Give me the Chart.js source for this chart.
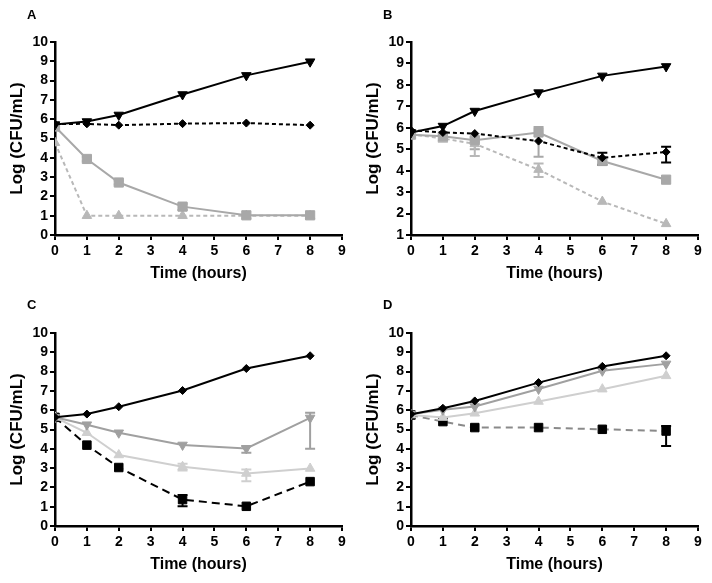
<!DOCTYPE html>
<html>
<head>
<meta charset="utf-8">
<script src="https://cdn.jsdelivr.net/npm/chart.js@4.4.1/dist/chart.umd.min.js"></script>
<style>
  body { margin: 0; background: #fff; }
  #wrap { position: relative; width: 712px; height: 583px; background: #fff; overflow: hidden; }
  canvas { position: absolute; }
  .tag { position: absolute; font: bold 13px "Liberation Sans", Arial, sans-serif; line-height: 13px; color: #000; }
</style>
</head>
<body>
<div id="wrap">
  <canvas id="chartA" width="356" height="290" style="left:0;top:0"></canvas>
  <canvas id="chartB" width="356" height="290" style="left:356px;top:0"></canvas>
  <canvas id="chartC" width="356" height="290" style="left:0;top:291px"></canvas>
  <canvas id="chartD" width="356" height="290" style="left:356px;top:291px"></canvas>
  <div class="tag" style="left:27px;top:8px">A</div>
  <div class="tag" style="left:383px;top:8px">B</div>
  <div class="tag" style="left:27px;top:298px">C</div>
  <div class="tag" style="left:383px;top:298px">D</div>
</div>
<script>
const hours = [0, 1, 2, 4, 6, 8];

// panel A
const aGrowth = [5.72, 5.88, 6.22, 7.28, 8.27, 8.98];
const aDiamond = [5.75, 5.76, 5.69, 5.77, 5.8, 5.69];
const aSquare = [5.62, 3.94, 2.72, 1.47, 1.02, 1.02];
const aSquareErr = [null, [3.82, 4.06], [2.62, 2.82], [1.3, 1.62], null, null];
const aTriangle = [4.78, 1.0, 1.0, 1.0, 1.0, 1.0];

// panel B
const bGrowth = [5.78, 6.08, 6.78, 7.64, 8.42, 8.86];
const bDiamond = [5.88, 5.78, 5.73, 5.38, 4.6, 4.87];
const bDiamondErr = [null, null, null, null, [4.28, 4.83], [4.38, 5.11]];
const bSquare = [5.68, 5.6, 5.42, 5.78, 4.45, 3.58];
const bSquareErr = [null, [5.4, 5.72], [5.0, 5.55], [4.65, 6.04], null, null];
const bTriangle = [5.7, 5.5, 5.25, 4.05, 2.56, 1.52];
const bTriangleErr = [null, [5.35, 5.62], [4.68, 5.35], [3.7, 4.33], null, null];

// panel C
const cGrowth = [5.63, 5.8, 6.18, 7.02, 8.16, 8.82];
const cDownTri = [5.63, 5.25, 4.83, 4.2, 4.02, 5.6];
const cDownTriErr = [null, null, null, null, [3.79, 4.14], [4.0, 5.87]];
const cUpTri = [5.63, 4.83, 3.68, 3.07, 2.72, 2.98];
const cUpTriErr = [null, null, null, [2.88, 3.22], [2.32, 2.93], null];
const cSquare = [5.63, 4.19, 3.03, 1.37, 1.02, 2.3];
const cSquareErr = [null, null, null, [1.02, 1.6], null, null];

// panel D
const dGrowth = [5.79, 6.1, 6.48, 7.43, 8.27, 8.82];
const dDownTri = [5.79, 6.02, 6.19, 7.1, 8.04, 8.4];
const dUpTri = [5.75, 5.62, 5.84, 6.45, 7.09, 7.78];
const dSquare = [5.75, 5.41, 5.1, 5.1, 5.01, 4.92];
const dSquareErr = [null, null, null, null, null, [4.14, 5.18]];

const FONT = '"Liberation Sans", Arial, sans-serif';

function points(values) {
  return values.map((v, i) => ({ x: hours[i], y: v }));
}

function series(values, opts) {
  return Object.assign({
    data: points(values),
    borderWidth: 2,
    pointBorderWidth: 1,
    pointRadius: 5,
    tension: 0
  }, opts);
}

// vertical error bars with caps, drawn through the scales
const errorBars = {
  id: 'errorBars',
  beforeDatasetsDraw(chart) {
    const ctx = chart.ctx;
    const xs = chart.scales.x, ys = chart.scales.y;
    chart.data.datasets.forEach(ds => {
      if (!ds.errors) return;
      ctx.save();
      ctx.strokeStyle = ds.errColor || ds.borderColor;
      ctx.lineWidth = 2;
      ds.errors.forEach((e, i) => {
        if (!e) return;
        const x = xs.getPixelForValue(hours[i]);
        const y1 = ys.getPixelForValue(e[0]);
        const y2 = ys.getPixelForValue(e[1]);
        ctx.beginPath();
        ctx.moveTo(x, y1); ctx.lineTo(x, y2);
        ctx.moveTo(x - 5, y1); ctx.lineTo(x + 5, y1);
        ctx.moveTo(x - 5, y2); ctx.lineTo(x + 5, y2);
        ctx.stroke();
      });
      ctx.restore();
    });
  }
};

function makePanel(id, yMin, datasets) {
  const ctx = document.getElementById(id).getContext('2d');
  return new Chart(ctx, {
    type: 'line',
    data: { datasets: datasets },
    plugins: [errorBars],
    options: {
      responsive: false,
      animation: false,
      devicePixelRatio: 1,
      layout: { padding: { top: 42, right: 14, left: 0, bottom: 0 } },
      plugins: { legend: { display: false }, tooltip: { enabled: false } },
      scales: {
        x: {
          type: 'linear', min: 0, max: 9,
          ticks: { stepSize: 1, autoSkip: false, maxRotation: 0, color: '#000', padding: 3, font: { family: FONT, size: 14, weight: 'bold' } },
          grid: { drawOnChartArea: false, drawTicks: true, tickLength: 5, color: '#000', lineWidth: 2 },
          border: { color: '#000', width: 2.5 },
          title: { display: true, text: 'Time (hours)', color: '#000', padding: { top: 0, bottom: 7 }, font: { family: FONT, size: 16, weight: 'bold' } },
          afterFit: s => { s.height = 55; }
        },
        y: {
          min: yMin, max: 10,
          ticks: { stepSize: 1, autoSkip: false, color: '#000', padding: 2, font: { family: FONT, size: 14, weight: 'bold' } },
          grid: { drawOnChartArea: false, drawTicks: true, tickLength: 5, color: '#000', lineWidth: 2 },
          border: { color: '#000', width: 2.5 },
          title: { display: true, text: 'Log (CFU/mL)', color: '#000', padding: { top: 7, bottom: 0 }, font: { family: FONT, size: 17, weight: 'bold' } },
          afterFit: s => { s.width = 55; }
        }
      }
    }
  });
}

const BLACK = '#000000';
const GRAY = '#a8a8a8';
const LIGHT = '#b8b8b8';
const MID = '#a0a0a0';
const PALE = '#cfcfcf';

makePanel('chartA', 0, [
  series(aGrowth, { borderColor: BLACK, backgroundColor: BLACK, pointStyle: 'triangle', rotation: 180, pointRadius: 5.5 }),
  series(aDiamond, { borderColor: BLACK, backgroundColor: BLACK, borderDash: [4, 3], pointStyle: 'rectRot', pointRadius: 4 }),
  series(aSquare, { borderColor: GRAY, backgroundColor: GRAY, pointStyle: 'rect', pointRadius: 6.5, errors: aSquareErr }),
  series(aTriangle, { borderColor: LIGHT, backgroundColor: LIGHT, borderDash: [4, 3], pointStyle: 'triangle', pointRadius: 5.5 })
]);

makePanel('chartB', 1, [
  series(bGrowth, { borderColor: BLACK, backgroundColor: BLACK, pointStyle: 'triangle', rotation: 180, pointRadius: 5.5 }),
  series(bDiamond, { borderColor: BLACK, backgroundColor: BLACK, borderDash: [4, 3], pointStyle: 'rectRot', pointRadius: 4, errors: bDiamondErr }),
  series(bSquare, { borderColor: GRAY, backgroundColor: GRAY, pointStyle: 'rect', pointRadius: 6.5, errors: bSquareErr }),
  series(bTriangle, { borderColor: LIGHT, backgroundColor: LIGHT, borderDash: [4, 3], pointStyle: 'triangle', pointRadius: 5.5, errors: bTriangleErr })
]);

makePanel('chartC', 0, [
  series(cGrowth, { borderColor: BLACK, backgroundColor: BLACK, pointStyle: 'rectRot', pointRadius: 4 }),
  series(cDownTri, { borderColor: MID, backgroundColor: MID, pointStyle: 'triangle', rotation: 180, pointRadius: 5.5, errors: cDownTriErr }),
  series(cUpTri, { borderColor: PALE, backgroundColor: PALE, pointStyle: 'triangle', pointRadius: 5.5, errors: cUpTriErr }),
  series(cSquare, { borderColor: BLACK, backgroundColor: BLACK, borderDash: [8, 5], pointStyle: 'rect', pointRadius: 6, errors: cSquareErr })
]);

makePanel('chartD', 0, [
  series(dGrowth, { borderColor: BLACK, backgroundColor: BLACK, pointStyle: 'rectRot', pointRadius: 4 }),
  series(dDownTri, { borderColor: MID, backgroundColor: MID, pointStyle: 'triangle', rotation: 180, pointRadius: 5.5 }),
  series(dUpTri, { borderColor: PALE, backgroundColor: PALE, pointStyle: 'triangle', pointRadius: 5.5 }),
  series(dSquare, { borderColor: '#8a8a8a', backgroundColor: BLACK, pointBorderColor: BLACK, borderDash: [7, 5], pointStyle: 'rect', pointRadius: 6, errors: dSquareErr, errColor: BLACK })
]);
</script>
</body>
</html>
